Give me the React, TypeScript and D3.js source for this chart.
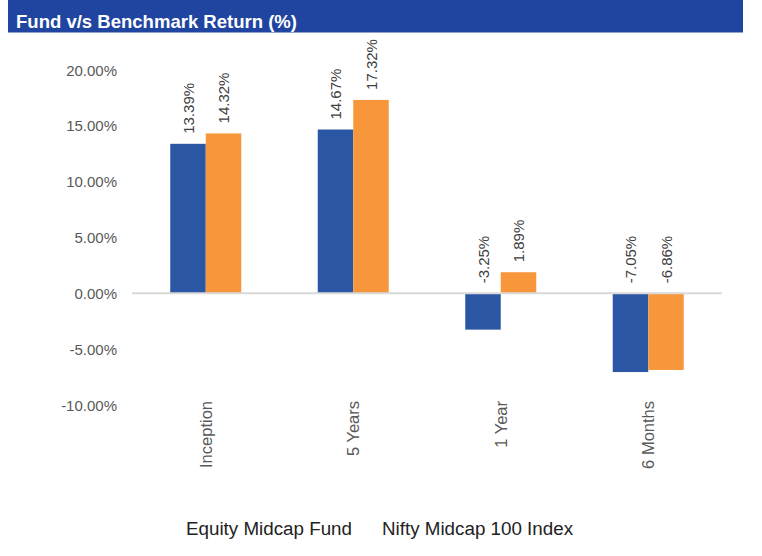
import React from "react";
import * as d3 from "d3";

const categories = ["Inception", "5 Years", "1 Year", "6 Months"];
const seriesNames = ["Equity Midcap Fund", "Nifty Midcap 100 Index"];
const fundValues = [13.39, 14.67, -3.25, -7.05];
const benchmarkValues = [14.32, 17.32, 1.89, -6.86];
const yTicks = [20, 15, 10, 5, 0, -5, -10];
const colors = ["#2A56A4", "#F7963A"];
const title = "Fund v/s Benchmark Return (%)";

const W = 762;
const H = 556;

export default function App() {
  const y = d3.scaleLinear().domain([-10, 20]).range([405, 70]);
  const x0 = d3.scaleBand<string>().domain(categories).range([132, 722]).padding(0);
  const bw = x0.bandwidth();
  const barW = 35.5;
  const x1 = d3
    .scaleBand<string>()
    .domain(seriesNames)
    .range([bw / 2 - barW, bw / 2 + barW])
    .padding(0);
  const series = [fundValues, benchmarkValues];
  const fmt = (v: number) => v.toFixed(2) + "%";
  const font = "'Liberation Sans', Arial, sans-serif";

  return (
    <svg
      width={W}
      height={H}
      style={{ position: "absolute", left: 0, top: 0, background: "#fff" }}
      fontFamily={font}
    >
      <rect x={8} y={0} width={735} height={32.5} fill="#1F45A0" />
      <text
        x={16}
        y={28}
        fill="#fff"
        fontWeight="bold"
        fontSize={18.5}
        textLength={281}
        lengthAdjust="spacingAndGlyphs"
      >
        {title}
      </text>

      {yTicks.map((t) => (
        <text
          key={t}
          x={117}
          y={y(t)}
          textAnchor="end"
          dominantBaseline="central"
          fontSize={15}
          fill="#595959"
        >
          {t.toFixed(2) + "%"}
        </text>
      ))}

      {categories.map((c, i) => (
        <g key={c} transform={`translate(${x0(c)},0)`}>
          {series.map((vals, s) => {
            const v = vals[i];
            const bx = x1(seriesNames[s])!;
            const top = y(Math.max(0, v));
            const h = Math.abs(y(v) - y(0));
            return (
              <rect key={s} x={bx} y={top} width={barW} height={h} fill={colors[s]} />
            );
          })}
        </g>
      ))}

      <line x1={132} x2={722} y1={y(0)} y2={y(0)} stroke="#D9D9D9" strokeWidth={2} />

      {categories.map((c, i) => (
        <g key={c + "l"}>
          {series.map((vals, s) => {
            const v = vals[i];
            const cx = x0(c)! + x1(seriesNames[s])! + barW / 2;
            const ly = y(Math.max(0, v)) - 10;
            return (
              <text
                key={s}
                transform={`translate(${cx},${ly}) rotate(-90)`}
                textAnchor="start"
                dominantBaseline="central"
                fontSize={15}
                fill="#404040"
              >
                {fmt(v)}
              </text>
            );
          })}
          <text
            transform={`translate(${x0(c)! + bw / 2},401) rotate(-90)`}
            textAnchor="end"
            dominantBaseline="central"
            fontSize={16.5}
            fill="#595959"
          >
            {c}
          </text>
        </g>
      ))}

      <text x={186} y={535} fontSize={18.8} fill="#222">
        {seriesNames[0]}
      </text>
      <text x={382} y={535} fontSize={18.8} fill="#222">
        {seriesNames[1]}
      </text>
    </svg>
  );
}
